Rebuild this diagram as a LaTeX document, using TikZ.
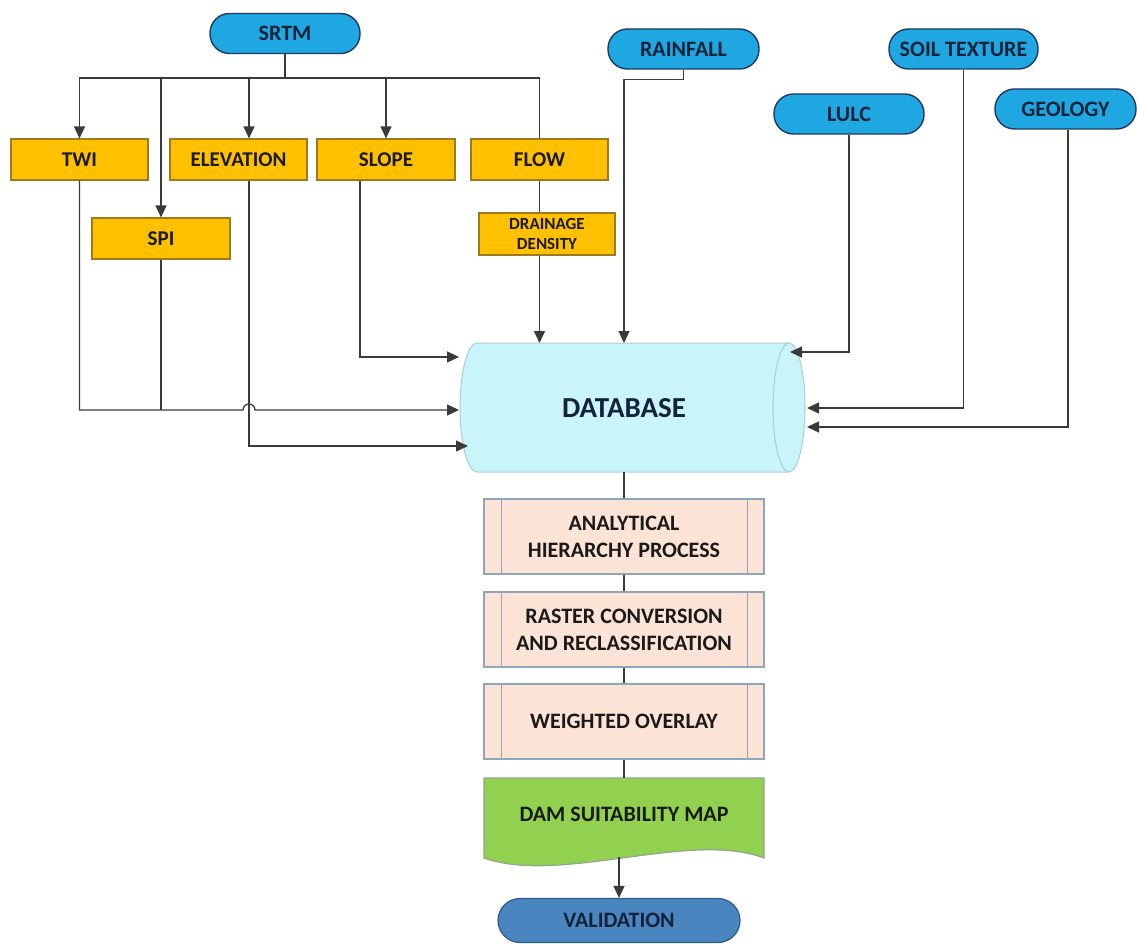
\documentclass[tikz,border=0pt]{standalone}
\usepackage{fontspec}
\setmainfont{Carlito}
\usetikzlibrary{arrows.meta,calc}
\definecolor{termfill}{HTML}{1EA7E1}
\definecolor{termborder}{HTML}{1F3864}
\definecolor{termtext}{HTML}{14233A}
\definecolor{ofill}{HTML}{FFC000}
\definecolor{oborder}{HTML}{9E7A1E}
\definecolor{procfill}{HTML}{FBE3D6}
\definecolor{procborder}{HTML}{8FA5B8}
\definecolor{dbfill}{HTML}{C9F4FA}
\definecolor{dbborder}{HTML}{A8CFDB}
\definecolor{docfill}{HTML}{92D050}
\definecolor{docborder}{HTML}{8FA88A}
\definecolor{valfill}{HTML}{4A85C0}
\definecolor{valborder}{HTML}{2E5C8A}
\definecolor{linec}{HTML}{3A3A3A}
\definecolor{txt}{HTML}{1A1A1A}
\begin{document}
\begin{tikzpicture}[x=1pt,y=-1pt,
  term/.style={draw=termborder, line width=1.4pt, fill=termfill, rounded corners=19.5pt,
    minimum height=40pt, inner sep=0pt, text=termtext, font=\bfseries\fontsize{22}{24}\selectfont},
  obox/.style={draw=oborder, line width=1.2pt, fill=ofill, minimum height=41pt, minimum width=137pt,
    inner sep=0pt, text=txt, font=\bfseries\fontsize{21}{23}\selectfont},
  proc/.style={draw=procborder, line width=1.2pt, fill=procfill, minimum width=280pt, minimum height=75pt,
    inner sep=0pt, align=center, text=txt, font=\bfseries\fontsize{22}{27}\selectfont},
  conn/.style={draw=linec, line width=1.3pt},
  arr/.style={conn, -{Triangle[length=12pt,width=11pt]}},
  lbl/.style={inner sep=0pt, text=txt, align=center}
]
\useasboundingbox (0,0) rectangle (1137,944);

% ---- source terminators
\node[term, minimum width=150pt] (srtm) at (285,33.5) {SRTM};
\node[term, minimum width=151pt] (rain) at (683.5,49) {RAINFALL};
\node[term, minimum width=149pt] (soil) at (963.5,49) {SOIL TEXTURE};
\node[term, minimum width=150pt] (lulc) at (849,114) {LULC};
\node[term, minimum width=141pt] (geo) at (1065.5,109) {GEOLOGY};

% ---- derived layers
\node[obox] (twi) at (79.5,159.5) {TWI};
\node[obox] (elev) at (238.5,159.5) {ELEVATION};
\node[obox, minimum width=138pt] (slope) at (386,159.5) {SLOPE};
\node[obox] (flow) at (539.5,159.5) {FLOW};
\node[obox, minimum width=138pt] (spi) at (161,238.5) {SPI};
\node[obox, minimum width=136pt, minimum height=42pt, align=center,
  font=\bfseries\fontsize{17}{20}\selectfont] (drain) at (547,234) {DRAINAGE\\DENSITY};

% ---- database cylinder
\node[minimum width=345pt, minimum height=129pt, inner sep=0pt] (db) at (632.5,407.5) {};
\filldraw[fill=dbfill, draw=dbborder, line width=1pt]
  (477,343) -- (789,343) arc[start angle=90, end angle=-90, x radius=16pt, y radius=64.5pt]
  -- (477,472) arc[start angle=270, end angle=90, x radius=17pt, y radius=64.5pt] -- cycle;
\draw[dbborder, line width=1pt] (789,343) arc[start angle=90, end angle=270, x radius=16pt, y radius=64.5pt];
\node[lbl, text=termtext, font=\bfseries\fontsize{29}{31}\selectfont] (dbtext) at (624,408) {DATABASE};

\coordinate (dbL1) at (459,357);
\coordinate (dbL2) at (459,410);
\coordinate (dbL3) at (468,446);
\coordinate (dbT1) at (539.5,343);
\coordinate (dbT2) at (624,343);
\coordinate (dbR1) at (790,352);
\coordinate (dbR2) at (807,408);
\coordinate (dbR3) at (807,427);

% ---- process chain
\node[proc] (ahp) at (624,536.5) {ANALYTICAL\\HIERARCHY PROCESS};
\node[proc] (rast) at (624,629.5) {RASTER CONVERSION\\AND RECLASSIFICATION};
\node[proc] (wo) at (624,721.5) {WEIGHTED OVERLAY};
\foreach \n in {ahp,rast,wo}{
  \draw[procborder, line width=1.2pt] ($(\n.north west)+(18,0)$) -- ($(\n.south west)+(18,0)$);
  \draw[procborder, line width=1.2pt] ($(\n.north east)+(-17,0)$) -- ($(\n.south east)+(-17,0)$);
}

% ---- document
\filldraw[fill=docfill, draw=docborder, line width=1.2pt]
  (484,778) -- (764,778) -- (764,858) .. controls (690,830) and (560,885) .. (484,858) -- cycle;
\node[lbl, font=\bfseries\fontsize{22}{24}\selectfont] (doc) at (624,814) {DAM SUITABILITY MAP};
\coordinate (docB) at (619,857);

% ---- validation
\node[draw=valborder, line width=1.2pt, fill=valfill, rounded corners=22pt, minimum width=242pt,
  minimum height=44pt, inner sep=0pt, text=termtext, font=\bfseries\fontsize{22}{24}\selectfont]
  (val) at (619,920.5) {VALIDATION};

% ---- connectors from SRTM
\coordinate (br) at (285,78);
\coordinate (eX) at ($(elev.north)+(10.5,0)$);
\draw[conn] (srtm.south) -- (br);
\draw[arr] (br) -| (twi.north);
\draw[arr] (br) -| (spi.north);
\draw[arr] (br) -| (eX);
\draw[arr] (br) -| (slope.north);
\draw[conn] (br) -| (flow.north);

% ---- layers to database
\draw[arr] (twi.south) -- (twi.south |- dbL2) -- ($(eX |- dbL2)+(-6,0)$)
  arc[start angle=180, end angle=0, radius=6pt] -- (dbL2);
\draw[conn] (spi.south) -- (spi.south |- dbL2);
\draw[arr] (eX |- elev.south) |- (dbL3);
\draw[arr] ($(slope.south)+(-26,0)$) |- (dbL1);
\draw[conn] (flow.south) -- (flow.south |- drain.north);
\draw[arr] (flow.south |- drain.south) -- (dbT1);
\draw[arr] (rain.south) -- ++(0,10) -| (dbT2);
\draw[arr] (lulc.south) |- (dbR1);
\draw[arr] (soil.south) |- (dbR2);
\draw[arr] ($(geo.south)+(2.5,0)$) |- (dbR3);

% ---- chain connectors
\draw[conn] (ahp.north |- db.south) -- (ahp.north);
\draw[conn] (ahp.south) -- (rast.north);
\draw[conn] (rast.south) -- (wo.north);
\draw[conn] (wo.south) -- (wo.south |- 0,778);
\draw[arr] (docB) -- (docB |- val.north);
\end{tikzpicture}
\end{document}
